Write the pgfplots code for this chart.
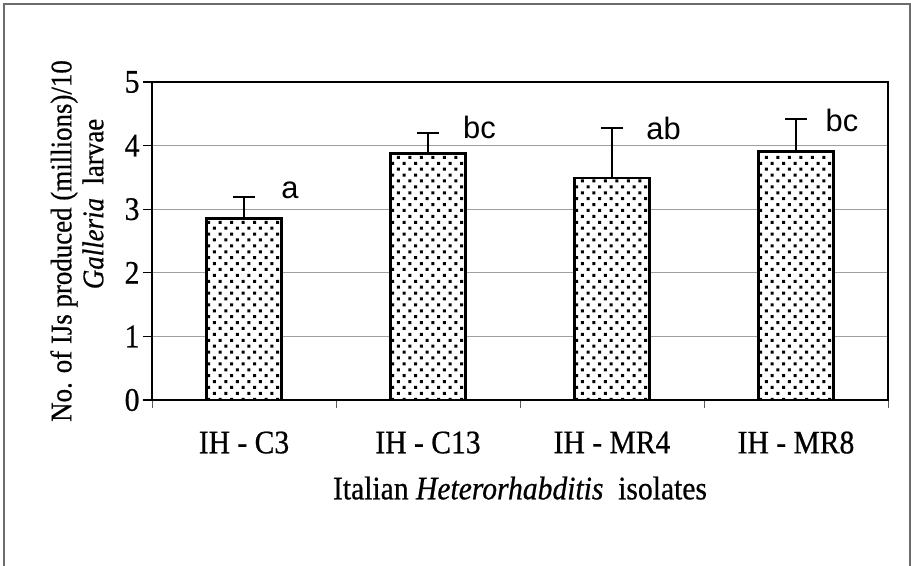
\documentclass[border=0pt]{standalone}
\usepackage{pgfplots}
\pgfplotsset{compat=1.18}
\usepackage{fontspec}
\setmainfont{Liberation Serif}[FakeStretch=0.9, FakeBold=0.6]
\setsansfont{Liberation Sans}
\usetikzlibrary{patterns}
\pgfdeclarepatternformonly{bigdots}{\pgfqpoint{-1bp}{-1bp}}{\pgfqpoint{12.5bp}{12.8bp}}{\pgfqpoint{11.5bp}{11.8bp}}{%
  \pgfpathrectangle{\pgfqpoint{0bp}{0bp}}{\pgfqpoint{3bp}{3bp}}%
  \pgfpathrectangle{\pgfqpoint{5.75bp}{5.9bp}}{\pgfqpoint{3bp}{3bp}}%
  \pgfusepath{fill}}
\begin{document}
\begin{tikzpicture}[font=\fontsize{33}{37}\selectfont]
\path[use as bounding box] (0,0) rectangle (911bp,566bp);
\draw[gray!85!black, line width=1.5bp] (4bp,-2bp) -- (4bp,562bp) -- (910bp,562bp) -- (910bp,-2bp);
\begin{axis}[
  at={(152bp,166bp)}, anchor=south west,
  scale only axis, width=736bp, height=318bp,
  xmin=-0.5, xmax=3.5, ymin=0, ymax=5,
  xtick={0,1,2,3},
  xticklabels={IH - C3, IH - C13, IH - MR4, IH - MR8},
  major x tick style={draw=none},
  minor xtick={-0.5,0.5,1.5,2.5,3.5},
  minor x tick style={gray!70!black, line width=1bp},
  minor tick length=8bp,
  ytick={0,1,2,3,4,5},
  major tick length=9bp,
  y tick style={black, line width=1.2bp},
  tick align=outside, tick pos=left,
  ymajorgrids, grid style={gray!75, line width=1.1bp},
  axis line style={black, line width=2.5bp},
  /pgf/number format/assume math mode=true,
  xticklabel style={yshift=-19bp},
  xlabel={Italian \textit{Heterorhabditis}\ \ isolates},
  xlabel style={at={(axis description cs:0.5,-0.277)}, anchor=center},
  ylabel={No. of IJs produced (millions)/10\\\hspace*{74bp}\textit{Galleria}\ \ larvae},
  ylabel style={at={(axis description cs:-0.102,0.5)}, anchor=center, align=center, font=\fontsize{30}{32}\selectfont},
]
\addplot[ybar, bar shift=0pt, bar width=75bp, fill=white, draw=black, line width=2.6bp,
  postaction={pattern=bigdots},
  error bars/.cd, y dir=plus, y explicit,
  error bar style={line width=2bp, black},
  error mark options={rotate=90, mark size=11bp, line width=2bp, black}]
coordinates {
  (0,2.85) +- (0,0.34)
  (1,3.88) +- (0,0.32)
  (2,3.49) +- (0,0.79)
  (3,3.91) +- (0,0.51)
};
\node[font=\sffamily\fontsize{31}{34}\selectfont] at (axis cs:0.25,3.30) {a};
\node[font=\sffamily\fontsize{31}{34}\selectfont] at (axis cs:1.28,4.28) {bc};
\node[font=\sffamily\fontsize{31}{34}\selectfont] at (axis cs:2.28,4.27) {ab};
\node[font=\sffamily\fontsize{31}{34}\selectfont] at (axis cs:3.25,4.39) {bc};
\end{axis}
\end{tikzpicture}
\end{document}
